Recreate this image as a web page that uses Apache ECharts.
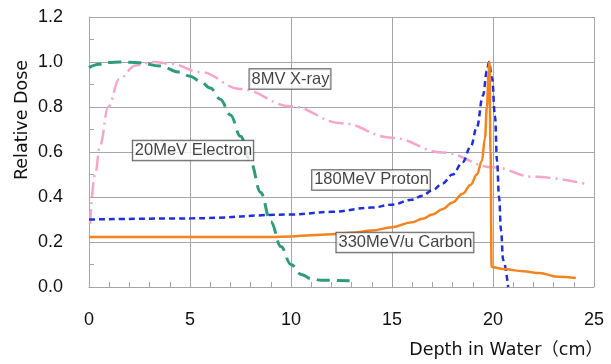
<!DOCTYPE html>
<html>
<head>
<meta charset="utf-8">
<script src="https://cdn.jsdelivr.net/npm/echarts@6/dist/echarts.min.js"></script>
<style>
  html, body { margin: 0; padding: 0; background: #fff; }
  #chart { width: 611px; height: 364px; }
</style>
</head>
<body>
<div id="chart"></div>
<script>
// depth (cm), relative dose
const electron = [
  [0, 0.975], [0.5, 0.99], [1, 0.998], [1.5, 1.0], [2.5, 0.997], [3.5, 0.982],
  [4.5, 0.955], [5, 0.937], [5.5, 0.915], [6, 0.885], [6.5, 0.835],
  [7, 0.765], [7.5, 0.67], [8, 0.555], [8.5, 0.42], [9, 0.29], [9.5, 0.18],
  [10, 0.1], [10.5, 0.056], [11, 0.037], [11.5, 0.03], [12.9, 0.028]
];
const xray = [
  [0.05, 0.28], [0.3, 0.5], [0.55, 0.63], [0.95, 0.8], [1.5, 0.925],
  [2.3, 0.985], [3.2, 1.0], [4, 0.993], [5.5, 0.956], [7.5, 0.88],
  [10, 0.803], [12.5, 0.728], [15, 0.663], [17.5, 0.598], [20, 0.532],
  [22, 0.49], [24.7, 0.456]
];
const proton = [
  [0, 0.3], [5, 0.305], [10, 0.322], [12, 0.334], [14, 0.353], [15, 0.366],
  [16, 0.388], [16.5, 0.406], [17, 0.43], [17.5, 0.46], [18, 0.5],
  [18.5, 0.555], [18.9, 0.625], [19.2, 0.71], [19.5, 0.85], [19.7, 0.96],
  [19.8, 1.0], [19.95, 0.93], [20.1, 0.76], [20.2, 0.56], [20.3, 0.4],
  [20.4, 0.25], [20.5, 0.12], [20.75, 0.0]
];
const carbon = [
  [0, 0.222], [9, 0.222], [10, 0.225], [11, 0.23], [12, 0.234], [13, 0.241],
  [14, 0.251], [15, 0.266], [16, 0.288], [16.5, 0.303], [17, 0.322],
  [17.5, 0.346], [18, 0.376], [18.5, 0.415], [18.9, 0.455], [19.2, 0.5],
  [19.45, 0.56], [19.6, 0.66], [19.7, 0.8], [19.78, 0.95], [19.82, 1.0],
  [19.88, 0.6], [19.93, 0.089], [20.5, 0.08], [21.5, 0.07], [22.3, 0.062],
  [23.2, 0.046], [24.1, 0.04]
];
// annotation boxes: [x, y, text] in data coordinates
const annotations = [
  [9.95, 0.924, '8MV X-ray'],
  [5.15, 0.607, '20MeV Electron'],
  [13.96, 0.476, '180MeV Proton'],
  [15.64, 0.198, '330MeV/u Carbon']
];

const FONT = "'Liberation Sans', Arial, 'Noto Sans CJK JP', sans-serif";
const NAME_FONT = "'DejaVu Sans', 'Noto Sans CJK JP', sans-serif";
const GRID = '#a6a6a6';

const chart = echarts.init(document.getElementById('chart'), null, { renderer: 'canvas' });

const lineSeries = (data, color, width, dash) => ({
  type: 'line',
  data,
  showSymbol: false,
  smooth: 0.4,
  smoothMonotone: 'x',
  lineStyle: { color, width, type: dash, cap: 'butt' },
  z: 3
});

chart.setOption({
  animation: false,
  grid: { left: 89, right: 17, top: 17, bottom: 77 },
  xAxis: {
    type: 'value',
    min: 0, max: 25, interval: 5,
    axisLine: { lineStyle: { color: GRID, width: 1 } },
    axisTick: { show: true, inside: true, length: 5, lineStyle: { color: GRID } },
    minorTick: { show: true, splitNumber: 5, length: 5, lineStyle: { color: GRID } },
    splitLine: { show: true, lineStyle: { color: GRID, width: 1 } },
    axisLabel: { color: '#111', fontSize: 18, fontFamily: FONT, margin: 24 }
  },
  yAxis: {
    type: 'value',
    min: 0, max: 1.2, interval: 0.2,
    axisLine: { show: true, lineStyle: { color: GRID, width: 1 } },
    axisTick: { show: true, inside: true, length: 5, lineStyle: { color: GRID } },
    minorTick: { show: true, splitNumber: 2, length: 5, lineStyle: { color: GRID } },
    splitLine: { show: true, lineStyle: { color: GRID, width: 1 } },
    axisLabel: {
      color: '#111', fontSize: 18, fontFamily: FONT, margin: 26,
      formatter: v => v.toFixed(1)
    }
  },
  graphic: [
    {
      type: 'text', x: 22, y: 120, rotation: Math.PI / 2,
      style: {
        text: 'Relative Dose', fill: '#111', font: '17.5px ' + NAME_FONT,
        align: 'center', verticalAlign: 'middle'
      }
    },
    {
      type: 'text', right: 8, top: 342,
      style: { text: 'Depth in Water（cm）', fill: '#111', font: '17.5px ' + NAME_FONT }
    }
  ],
  series: [
    lineSeries(xray, '#f5a6c9', 2.5, [15, 5, 2, 5]),
    lineSeries(electron, '#2f9b7c', 3, [13, 7]),
    lineSeries(proton, '#1f2fdc', 2.5, [6, 4]),
    lineSeries(carbon, '#f3831f', 2.5, 'solid'),
    {
      type: 'scatter',
      data: annotations.map(a => ({ value: [a[0], a[1]], name: a[2] })),
      symbolSize: 0,
      z: 5,
      label: {
        show: true,
        position: 'inside',
        formatter: p => p.name,
        color: '#111',
        fontSize: 16.5,
        fontFamily: FONT,
        backgroundColor: '#fff',
        borderColor: '#333',
        borderWidth: 1,
        padding: [2, 1, 1, 2]
      }
    }
  ]
});
</script>
</body>
</html>
